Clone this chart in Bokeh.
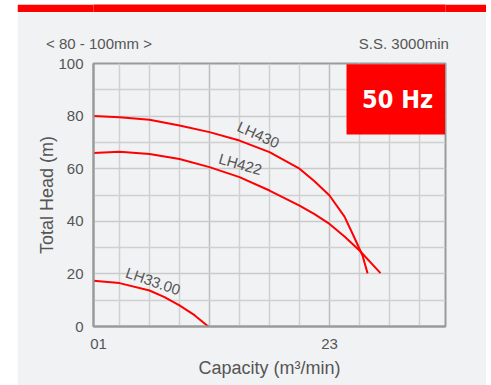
from bokeh.plotting import figure
from bokeh.layouts import column
from bokeh.models import Range1d, FixedTicker, LinearAxis
from bokeh.core.properties import value
from bokeh.embed import file_html
from bokeh.resources import INLINE

# ---- data (x in chart grid units, head in m) ----
x_lh430 = [0.13, 1, 2, 3, 4, 5, 6, 7, 7.5, 8, 8.5, 8.8, 9.1, 9.27]
h_lh430 = [80, 79.6, 78.6, 76.4, 73.9, 70.7, 66.3, 60, 55.2, 49.8, 41.8, 34.5, 27.0, 20.2]
x_lh422 = [0.13, 1, 2, 3, 4, 5, 6, 7, 7.5, 8, 8.5, 9, 9.7]
h_lh422 = [66, 66.4, 65.6, 63.7, 60.6, 56.8, 51.7, 46, 42.7, 39, 34.2, 28.9, 20.3]
x_lh33 = [0.13, 1, 2, 2.5, 3, 3.5, 3.96]
h_lh33 = [17.4, 16.5, 13.7, 11.2, 8, 4.3, 0]

curve_names = ["LH430", "LH422", "LH33.00"]
label_x = [5.63, 5.03, 2.12]
label_y = [73.0, 61.8, 17.3]
label_angle = [-24, -16, -19]

x_tick_pos = [0.3, 8]
x_tick_labels = ["01", "23"]
y_ticks = [0, 20, 40, 60, 80, 100]

header_pos = [0.317, 10.48]
header_texts = ["< 80 - 100mm >", "S.S. 3000min"]

FONT = "Liberation Sans"
TXT = "#555555"
BG = "#f1f2f4"
RED = "#ff0000"

# ---- red top strip ----
strip = figure(width=469, height=10, toolbar_location=None, output_backend="svg",
               min_border=0, x_axis_type=None, y_axis_type=None,
               border_fill_color=RED, background_fill_color=RED,
               outline_line_color=None)
strip.grid.visible = False

# ---- main chart ----
p = figure(width=469, height=373, toolbar_location=None, output_backend="svg",
           x_range=Range1d(4/30, 356/30), y_range=Range1d(0, 100),
           min_border_left=76, min_border_right=41, min_border_top=51, min_border_bottom=59,
           background_fill_color=BG, border_fill_color=BG,
           outline_line_color="#9a9a9a", outline_line_width=2)

p.xaxis.ticker = FixedTicker(ticks=x_tick_pos)
p.xaxis.major_label_overrides = {x_tick_pos[i]: x_tick_labels[i] for i in range(len(x_tick_pos))}
p.yaxis.ticker = FixedTicker(ticks=y_ticks)
for ax in (p.xaxis[0], p.yaxis[0]):
    ax.axis_line_color = "#9a9a9a"
    ax.axis_line_width = 2
    ax.major_tick_out = 0
    ax.major_tick_in = 0
    ax.minor_tick_out = 0
    ax.minor_tick_in = 0
    ax.major_label_standoff = 10
    ax.major_label_text_font = FONT
    ax.major_label_text_font_size = "15px"
    ax.major_label_text_color = TXT
    ax.axis_label_text_font = FONT
    ax.axis_label_text_font_size = "18px"
    ax.axis_label_text_font_style = "normal"
    ax.axis_label_text_color = TXT
p.xaxis.major_label_standoff = 12
p.xaxis.axis_label = "Capacity (m³/min)"
p.xaxis.axis_label_standoff = 6
p.yaxis.axis_label = "Total Head (m)"
p.yaxis.axis_label_standoff = -2

# header texts carried by a tick-less axis above the frame
top_axis = LinearAxis(ticker=FixedTicker(ticks=header_pos),
                      major_label_overrides={header_pos[i]: header_texts[i] for i in range(2)},
                      axis_line_color=None, major_tick_out=0, major_tick_in=0,
                      minor_tick_out=0, minor_tick_in=0, major_label_standoff=12,
                      major_label_text_font=FONT, major_label_text_font_size="15px",
                      major_label_text_color=TXT)
p.add_layout(top_axis, "above")

p.xgrid.ticker = FixedTicker(ticks=[4, 8], minor_ticks=[1, 2, 3, 5, 6, 7, 9, 10, 11])
p.xgrid.grid_line_color = "#bdbdbd"
p.xgrid.grid_line_width = 1.5
p.xgrid.minor_grid_line_color = "#d0d0d0"
p.xgrid.minor_grid_line_width = 1.5
p.ygrid.ticker = FixedTicker(ticks=[20, 40, 60, 80], minor_ticks=[10, 30, 50, 70, 90])
p.ygrid.grid_line_color = "#cacaca"
p.ygrid.grid_line_width = 1.5
p.ygrid.minor_grid_line_color = "#d0d0d0"
p.ygrid.minor_grid_line_width = 1.5

for xs, hs in ((x_lh430, h_lh430), (x_lh422, h_lh422), (x_lh33, h_lh33)):
    p.line(xs, hs, line_color=RED, line_width=2, line_join="round")

p.text(x=label_x, y=label_y, text=curve_names, angle=label_angle, angle_units="deg",
       text_font=value(FONT), text_font_size="15px", text_color=TXT,
       text_align="center", text_baseline="middle")

p.quad(left=[8.567], right=[11.85], bottom=[73.0], top=[99.7], fill_color=RED, line_color=None)
p.text(x=[10.27], y=[86.3], text=["50 Hz"],
       text_font=value("'DejaVu Sans Condensed', 'DejaVu Sans'"),
       text_font_size="25px", text_font_style="bold", text_color="white",
       text_align="center", text_baseline="middle")

layout = column(strip, p, spacing=0)
layout.styles = {"margin-left": "17px", "margin-top": "2px"}

open("out.html", "w").write(file_html(layout, INLINE))
